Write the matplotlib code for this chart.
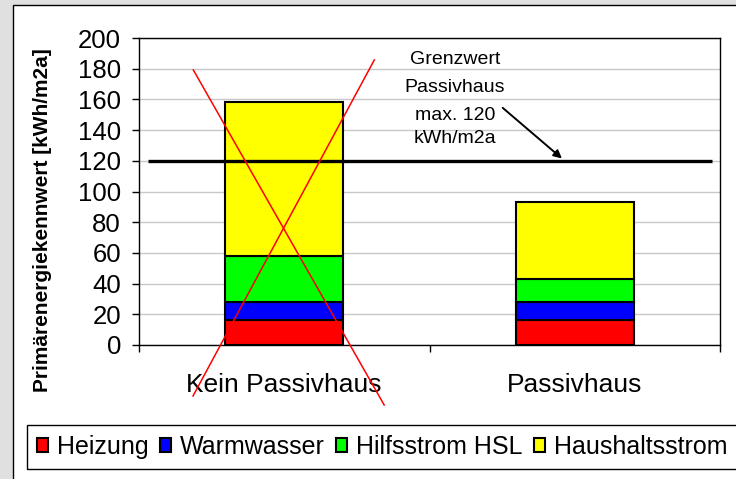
import matplotlib
matplotlib.use("Agg")
import matplotlib.pyplot as plt
from matplotlib.patches import Rectangle
import numpy as np

plt.rcParams['font.family'] = ['Liberation Sans', 'DejaVu Sans']

# ---- data ----
categories = ["Kein Passivhaus", "Passivhaus"]
series_names = ["Heizung", "Warmwasser", "Hilfsstrom HSL", "Haushaltsstrom"]
heizung = [16, 16]
warmwasser = [12, 12]
hilfsstrom = [30, 15]
haushalt = [100, 50]
series_colors = ["#ff0000", "#0000ff", "#00ff00", "#ffff00"]
grenzwert = 120
y_ticks = list(range(0, 201, 20))
y_label = "Primärenergiekennwert [kWh/m2a]"
annot_lines = ["Grenzwert", "Passivhaus", "max. 120", "kWh/m2a"]

W, H = 736, 479
fig = plt.figure(figsize=(W / 100, H / 100), dpi=100)
fig.patch.set_facecolor("#e0e0e0")

def fx(px):
    return px / W

def fy(py):
    return 1 - py / H

# white chart area with border
fig.add_artist(Rectangle((fx(13), fy(490)), fx(760) - fx(13), fy(5) - fy(490),
                         transform=fig.transFigure, facecolor="white",
                         edgecolor="black", lw=1, zorder=0))

ax = fig.add_axes([fx(139), fy(345), fx(720) - fx(139), fy(38) - fy(345)])
ax.set_facecolor("white")

x = np.arange(len(categories))
bw = 0.406
bottom = np.zeros(len(categories))
for name, vals, col in zip(series_names, [heizung, warmwasser, hilfsstrom, haushalt], series_colors):
    ax.bar(x, vals, bw, bottom=bottom, color=col, edgecolor="black", lw=1.5,
           label=name, zorder=3)
    bottom += np.array(vals)

ax.set_xlim(-0.5, len(categories) - 0.5)
ax.set_ylim(0, 200)
ax.set_yticks(y_ticks)
ax.set_yticklabels([str(v) for v in y_ticks], fontsize=18.5)
ax.yaxis.grid(True, color="#c8c8c8", lw=1, zorder=0)
ax.set_axisbelow(True)
ax.tick_params(axis="y", direction="out", length=5, width=1, pad=8)

ax.set_xticks(x)
ax.set_xticklabels(categories, fontsize=19)
ax.set_xticks(np.arange(-0.5, len(categories), 1.0), minor=True)
ax.tick_params(axis="x", which="major", length=0, pad=20)
ax.tick_params(axis="x", which="minor", direction="out", length=5, width=1)
for s in ax.spines.values():
    s.set_color("black")
    s.set_linewidth(1)

# Grenzwert line
ax.plot([-0.469, 1.472], [grenzwert, grenzwert], color="black", lw=2.4,
        zorder=5, clip_on=False, solid_capstyle="butt")

# annotation text
ann_y = [186.0, 168.0, 149.8, 134.5]
for t, yy in zip(annot_lines, ann_y):
    ax.text(0.588, yy, t, fontsize=14, ha="center", va="center", zorder=6)
ax.annotate("", xy=(0.956, grenzwert + 1.5), xytext=(0.752, 154.5),
            arrowprops=dict(arrowstyle="-|>", color="black", lw=1.4,
                            mutation_scale=12, shrinkA=0, shrinkB=0), zorder=6)

# red cross over first bar
ax.plot([-0.313, 0.344], [179.2, -39.1], color="red", lw=1.1, clip_on=False, zorder=7)
ax.plot([0.31, -0.314], [185.7, -33.2], color="red", lw=1.1, clip_on=False, zorder=7)

# y label
fig.text(fx(43), fy(220), y_label, rotation=90, ha="center", va="center",
         fontsize=15, fontweight="bold")

# legend
fig.add_artist(Rectangle((fx(27), fy(469)), fx(760) - fx(27), fy(425) - fy(469),
                         transform=fig.transFigure, facecolor="white",
                         edgecolor="black", lw=1, zorder=1))
handles, labels = ax.get_legend_handles_labels()
leg = fig.legend(handles, labels, loc="center left", bbox_to_anchor=(fx(37), fy(447)),
                 ncol=4, frameon=False, fontsize=18, borderpad=0,
                 handlelength=0.45, handleheight=0.45, handletextpad=0.35,
                 columnspacing=0.45, borderaxespad=0)
leg.set_zorder(2)

fig.savefig("out.png", dpi=100, facecolor=fig.get_facecolor())
